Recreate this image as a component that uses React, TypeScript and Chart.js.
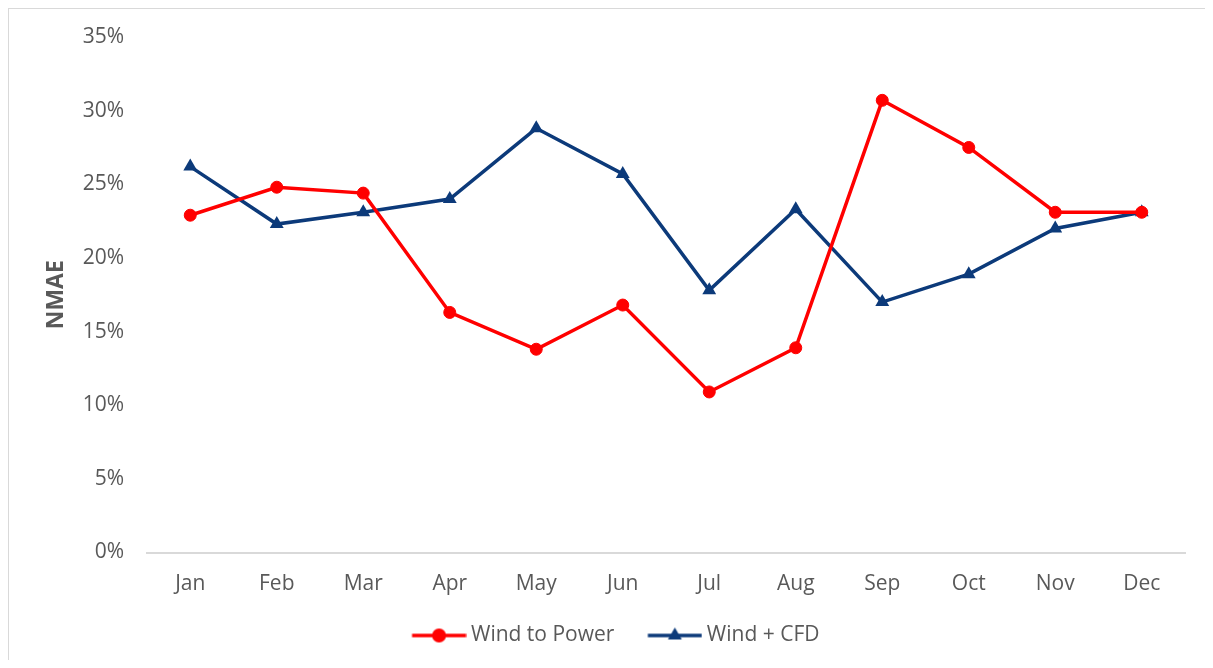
import React, { useEffect, useRef } from "react";
import { Chart, registerables } from "chart.js";

Chart.register(...registerables);

const months = ["Jan", "Feb", "Mar", "Apr", "May", "Jun", "Jul", "Aug", "Sep", "Oct", "Nov", "Dec"];
const windToPower = [22.9, 24.8, 24.4, 16.3, 13.8, 16.8, 10.9, 13.9, 30.7, 27.5, 23.1, 23.1];
const windCfd = [26.2, 22.3, 23.1, 24.0, 28.8, 25.7, 17.8, 23.3, 17.0, 18.9, 22.0, 23.1];
const yTicks = [0, 5, 10, 15, 20, 25, 30, 35];

const RED = "#FF0000";
const BLUE = "#0C3A7A";
const TEXT = "#595959";
const FONT = "'Open Sans', sans-serif";

function legendImage(color: string, kind: "circle" | "triangle") {
  const c = document.createElement("canvas");
  c.width = 84;
  c.height = 22;
  const ctx = c.getContext("2d")!;
  ctx.strokeStyle = color;
  ctx.fillStyle = color;
  ctx.lineWidth = 3.5;
  ctx.beginPath();
  ctx.moveTo(29.5, 11);
  ctx.lineTo(83.5, 11);
  ctx.stroke();
  const mx = 56.5;
  ctx.beginPath();
  if (kind === "circle") {
    ctx.arc(mx, 11, 7, 0, Math.PI * 2);
  } else {
    const r = 8;
    ctx.moveTo(mx, 11 - r);
    ctx.lineTo(mx + r * Math.sin((2 * Math.PI) / 3), 11 - r * Math.cos((2 * Math.PI) / 3));
    ctx.lineTo(mx + r * Math.sin((4 * Math.PI) / 3), 11 - r * Math.cos((4 * Math.PI) / 3));
    ctx.closePath();
  }
  ctx.fill();
  return c;
}

const legendShift = {
  id: "legendShift",
  afterLayout(chart: any) {
    if (chart.legend) {
      chart.legend.left += 7;
      chart.legend.right += 7;
    }
  },
};

export default function App() {
  const ref = useRef<HTMLCanvasElement | null>(null);

  useEffect(() => {
    if (!ref.current) return;
    const imgs = [legendImage(RED, "circle"), legendImage(BLUE, "triangle")];
    const chart = new Chart(ref.current, {
      type: "line",
      data: {
        labels: months,
        datasets: [
          {
            label: "Wind to Power",
            data: windToPower,
            borderColor: RED,
            backgroundColor: RED,
            borderWidth: 3.5,
            pointStyle: "circle",
            pointRadius: 6,
            pointBorderWidth: 1,
            pointBackgroundColor: RED,
            pointBorderColor: RED,
            tension: 0,
          },
          {
            label: "Wind + CFD",
            data: windCfd,
            borderColor: BLUE,
            backgroundColor: BLUE,
            borderWidth: 3.5,
            pointStyle: "triangle",
            pointRadius: 8,
            pointBorderWidth: 0,
            pointBackgroundColor: BLUE,
            pointBorderColor: BLUE,
            tension: 0,
          },
        ],
      },
      plugins: [legendShift],
      options: {
        animation: false,
        responsive: false,
        maintainAspectRatio: false,
        layout: { padding: { top: 28, right: 28, left: 0, bottom: 4 } },
        plugins: {
          tooltip: { enabled: false },
          legend: {
            position: "bottom",
            align: "center",
            labels: {
              usePointStyle: true,
              pointStyleWidth: 72,
              padding: 10,
              color: TEXT,
              font: { family: FONT, size: 21 },
              generateLabels: (ch: any) => {
                const base = Chart.defaults.plugins.legend.labels.generateLabels(ch);
                return base.map((l: any, i: number) => ({ ...l, pointStyle: imgs[i], fontColor: TEXT }));
              },
            },
          },
        },
        scales: {
          x: {
            offset: true,
            grid: { display: false, drawTicks: false },
            border: { display: true, color: "#D9D9D9", width: 2 },
            ticks: { color: TEXT, font: { family: FONT, size: 21 }, padding: 19 },
            afterFit: (s: any) => {
              s.height = 62.5;
            },
          },
          y: {
            min: 0,
            max: 35,
            afterBuildTicks: (s: any) => {
              s.ticks = yTicks.map((v) => ({ value: v }));
            },
            grid: { display: false, drawTicks: false },
            border: { display: false },
            ticks: {
              color: TEXT,
              font: { family: FONT, size: 21 },
              padding: 23,
              callback: (v: any) => v + "%",
            },
            title: {
              display: true,
              text: "NMAE",
              color: TEXT,
              font: { family: FONT, size: 23, weight: "bold" },
              padding: { top: 34, bottom: 0 },
            },
            afterFit: (s: any) => {
              s.width = 138;
              s.paddingTop = 0;
              s.paddingBottom = 0;
            },
          },
        },
      },
    });
    return () => chart.destroy();
  }, []);

  return (
    <div
      style={{
        width: 1204,
        height: 651,
        borderTop: "1px solid #D9D9D9",
        borderLeft: "1px solid #D9D9D9",
        overflow: "hidden",
        background: "#fff",
      }}
    >
      <canvas ref={ref} width={1204} height={651} style={{ display: "block", width: 1204, height: 651 }} />
    </div>
  );
}
